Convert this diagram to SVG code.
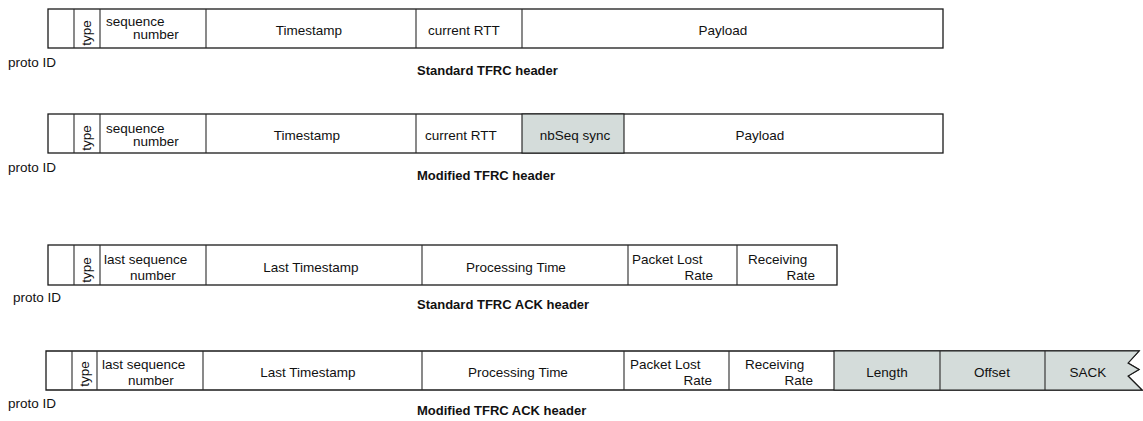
<svg xmlns="http://www.w3.org/2000/svg" width="1143" height="421" viewBox="0 0 1143 421">
<style>
text{font-family:"Liberation Sans",Arial,sans-serif;font-size:13.5px;fill:#111}
.t{font-weight:bold;font-size:13px}
.m{text-anchor:middle}
.e{text-anchor:end}
.box{fill:#fff;stroke:#1a1a1a;stroke-width:1.3}
.div{stroke:#2a2a2a;stroke-width:1.1;fill:none}
.g{fill:#d4dcda;stroke:#1a1a1a;stroke-width:1.1}
</style>
<rect width="1143" height="421" fill="#fff"/>

<g id="row1">
<rect class="box" x="48" y="9" width="895" height="39"/>
<path class="div" d="M74,9V48M100,9V48M206,9V48M416,9V48M522,9V48"/>
<text transform="translate(91,33) rotate(-90)" class="m">type</text>
<text x="106" y="26">sequence</text>
<text x="133" y="39">number</text>
<text x="309" y="35" class="m">Timestamp</text>
<text x="428" y="35">current RTT</text>
<text x="723" y="35" class="m">Payload</text>
<text x="8" y="67">proto ID</text>
<text x="417" y="75" class="t">Standard TFRC header</text>
</g>

<g id="row2">
<rect class="box" x="48" y="114" width="895" height="39"/>
<rect class="g" x="522" y="114" width="102" height="39"/>
<path class="div" d="M74,114V153M100,114V153M206,114V153M416,114V153"/>
<text transform="translate(91,138) rotate(-90)" class="m">type</text>
<text x="106" y="133">sequence</text>
<text x="133" y="146">number</text>
<text x="307" y="140" class="m">Timestamp</text>
<text x="425" y="140">current RTT</text>
<text x="575" y="140" class="m">nbSeq sync</text>
<text x="760" y="140" class="m">Payload</text>
<text x="8" y="172">proto ID</text>
<text x="417" y="180" class="t">Modified TFRC header</text>
</g>

<g id="row3">
<rect class="box" x="48" y="245" width="789" height="40"/>
<path class="div" d="M74,245V285M100,245V285M206,245V285M422,245V285M628,245V285M737,245V285"/>
<text transform="translate(91,270) rotate(-90)" class="m">type</text>
<text x="104" y="264">last sequence</text>
<text x="130" y="280">number</text>
<text x="311" y="272" class="m">Last Timestamp</text>
<text x="516" y="272" class="m">Processing Time</text>
<text x="632" y="264">Packet Lost</text>
<text x="713" y="280" class="e">Rate</text>
<text x="748" y="264">Receiving</text>
<text x="815" y="280" class="e">Rate</text>
<text x="13" y="302">proto ID</text>
<text x="417" y="309" class="t">Standard TFRC ACK header</text>
</g>

<g id="row4">
<path class="box" d="M46,351H1139L1128,363L1139,369.5L1128,376L1142,390H46Z"/>
<path class="g" d="M834,351H1139L1128,363L1139,369.5L1128,376L1142,390H834Z"/>
<path class="div" d="M72,351V390M97,351V390M203,351V390M422,351V390M624,351V390M729,351V390M940,351V390M1045,351V390"/>
<text transform="translate(89,374) rotate(-90)" class="m">type</text>
<text x="102" y="369">last sequence</text>
<text x="128" y="385">number</text>
<text x="308" y="377" class="m">Last Timestamp</text>
<text x="518" y="377" class="m">Processing Time</text>
<text x="630" y="369">Packet Lost</text>
<text x="712" y="385" class="e">Rate</text>
<text x="745" y="369">Receiving</text>
<text x="813" y="385" class="e">Rate</text>
<text x="887" y="377" class="m">Length</text>
<text x="992" y="377" class="m">Offset</text>
<text x="1088" y="377" class="m">SACK</text>
<text x="8" y="408">proto ID</text>
<text x="417" y="415" class="t">Modified TFRC ACK header</text>
</g>

<g id="connectors"></g>
</svg>
